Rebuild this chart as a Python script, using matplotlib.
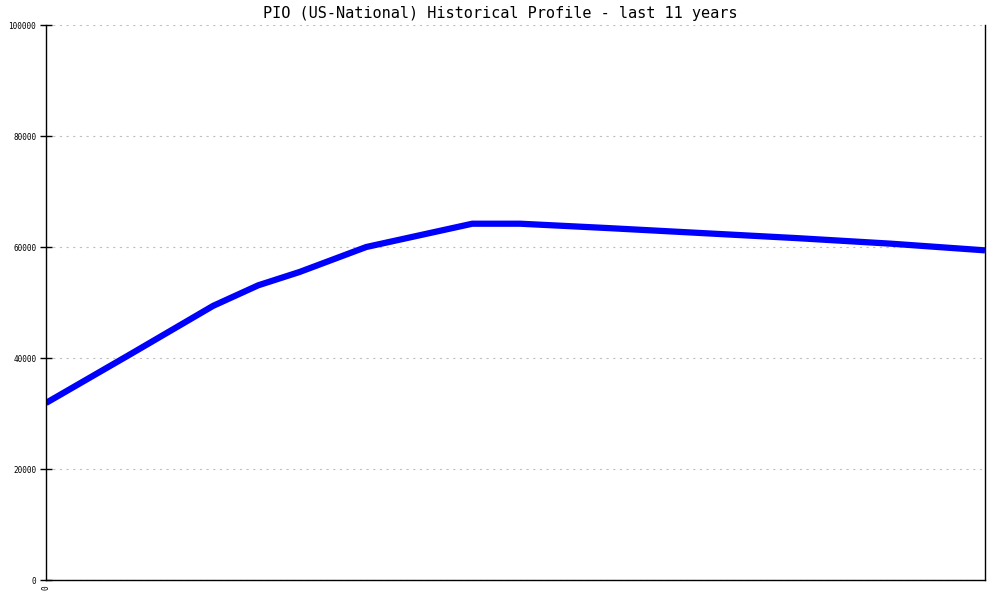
import matplotlib
matplotlib.use("Agg")
import matplotlib.pyplot as plt

# data (x in years from start, y = population)
years = [0.0, 0.9, 1.78, 2.26, 2.7, 3.41, 4.54, 5.05, 6.0, 7.0, 8.0, 9.0, 10.0]
values = [31900, 40700, 49400, 53100, 55500, 60000, 64200, 64200, 63400, 62500, 61600, 60600, 59400]

title = "PIO (US-National) Historical Profile - last 11 years"
yticks = [0, 20000, 40000, 60000, 80000, 100000]

fig = plt.figure(figsize=(10, 6), dpi=100)
ax = fig.add_axes([0.046, 0.0333, 0.939, 0.925])

ax.plot(years, values, color="#0000ff", lw=4.5, solid_capstyle="butt", solid_joinstyle="round")

ax.set_xlim(0, 10)
ax.set_ylim(0, 100000)
ax.set_yticks(yticks)
ax.set_yticklabels([str(v) for v in yticks], fontsize=5.5, family="DejaVu Sans Mono")
ax.set_xticks([0])
ax.set_xticklabels(["0"], rotation=90, fontsize=5.5, family="DejaVu Sans Mono")
ax.tick_params(axis="y", direction="inout", length=8, width=1, pad=3)
ax.tick_params(axis="x", length=0, pad=4)

ax.grid(axis="y", color="#c0c0c0", linestyle=(0, (2, 4)), lw=0.8)
ax.set_axisbelow(True)
ax.spines["top"].set_visible(False)
for s in ["left", "right", "bottom"]:
    ax.spines[s].set_linewidth(1)
    ax.spines[s].set_color("black")

fig.text(0.5, 0.978, title, ha="center", va="center", fontsize=11, family="DejaVu Sans Mono")

fig.savefig("out.png", dpi=100, facecolor="white")
